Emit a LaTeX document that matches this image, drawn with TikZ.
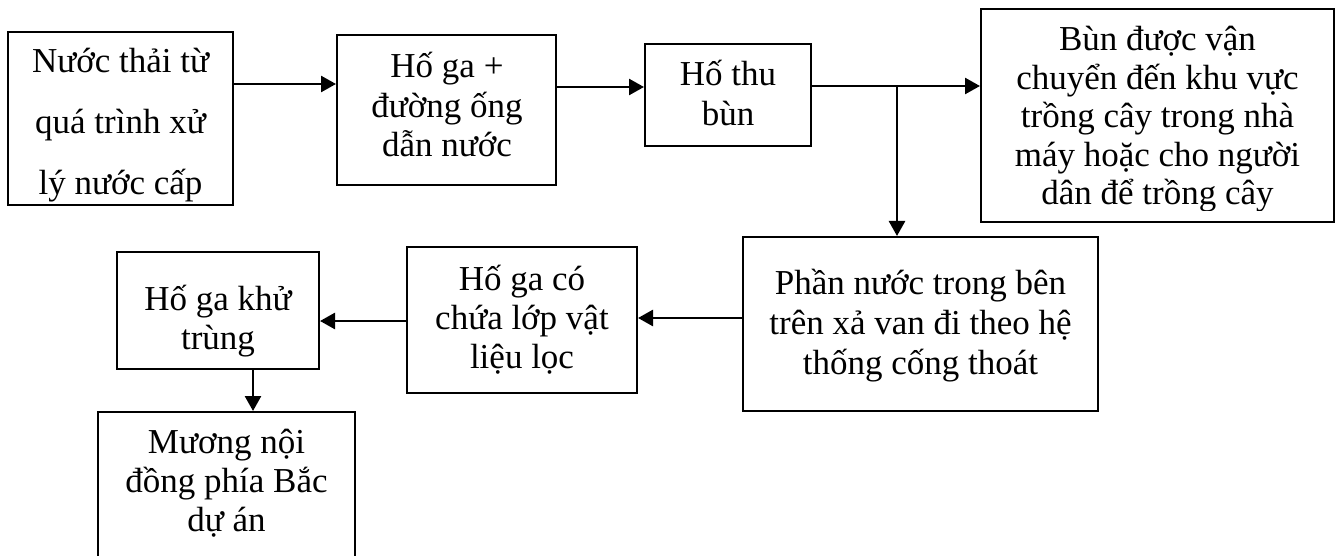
\documentclass[tikz,border=0pt]{standalone}
\usepackage{fontspec}
\setmainfont{Liberation Serif}
\usetikzlibrary{arrows.meta}
\newcommand\mlines[1]{\vtop{\lineskiplimit=-100pt\halign{\hfil##\hfil\cr#1\crcr}}}
\begin{document}
\begin{tikzpicture}[x=1pt,y=-1pt,
  box/.style={draw=black, line width=2pt, inner sep=0pt, minimum width=#1},
  txt/.style={anchor=base, inner sep=0pt, font=\fontsize{35}{39.5}\selectfont},
  arr/.style={line width=2.6pt, -{Triangle[length=15pt,width=16pt]}}]
\clip (0,0) rectangle (1341,556);
\fill[white] (0,0) rectangle (1341,556);
% boxes
\node[box=225pt, minimum height=173pt] (b1) at (120.5,118.5) {};
\node[box=219pt, minimum height=150pt] (b2) at (446.5,110) {};
\node[box=166pt, minimum height=102pt] (b3) at (728,95) {};
\node[box=353pt, minimum height=213pt] (b4) at (1157.5,115.5) {};
\node[box=355pt, minimum height=174pt] (b5) at (920.5,324) {};
\node[box=230pt, minimum height=146pt] (b6) at (522,320) {};
\node[box=202pt, minimum height=117pt] (b7) at (218,310.5) {};
\node[box=257pt, minimum height=188pt] (b8) at (226.5,506) {};
% texts
\node[txt, font=\fontsize{35}{61}\selectfont] (t1) at (120.5,73) {\mlines{Nước thải từ\cr quá trình xử\cr lý nước cấp}};
\node[txt] (t2) at (447,78) {\mlines{Hố ga +\cr đường ống\cr dẫn nước}};
\node[txt, font=\fontsize{35}{40}\selectfont] (t3) at (728,86) {\mlines{Hố thu\cr bùn}};
\begin{scope}
\clip (981,9) rectangle (1334,211);
\node[txt, font=\fontsize{35}{38.5}\selectfont] (t4) at (1157.5,51) {\mlines{Bùn được vận\cr chuyển đến khu vực\cr trồng cây trong nhà\cr máy hoặc cho người\cr dân để trồng cây}};
\end{scope}
\node[txt, font=\fontsize{35}{40}\selectfont] (t5) at (920.5,294) {\mlines{Phần nước trong bên\cr trên xả van đi theo hệ\cr thống cống thoát}};
\node[txt, font=\fontsize{35}{39}\selectfont] (t6) at (522,290) {\mlines{Hố ga có\cr chứa lớp vật\cr liệu lọc}};
\node[txt, font=\fontsize{35}{39}\selectfont] (t7) at (218,310) {\mlines{Hố ga khử\cr trùng}};
\node[txt, font=\fontsize{35}{39}\selectfont] (t8) at (226.5,453) {\mlines{Mương nội\cr đồng phía Bắc\cr dự án}};
% connectors
\coordinate (j) at (897,86);
\draw[arr] (b1.east |- 0,84) -- (b2.west |- 0,84);
\draw[arr] (b2.east |- 0,87) -- (b3.west |- 0,87);
\draw[arr] (b3.east |- j) -- (b4.west |- j);
\draw[arr] (j) -- (j |- b5.north);
\draw[arr] (b5.west |- 0,318) -- (b6.east |- 0,318);
\draw[arr] (b6.west |- 0,321) -- (b7.east |- 0,321);
\draw[arr] (b7.south -| 253,0) -- (b8.north -| 253,0);
\end{tikzpicture}
\end{document}
